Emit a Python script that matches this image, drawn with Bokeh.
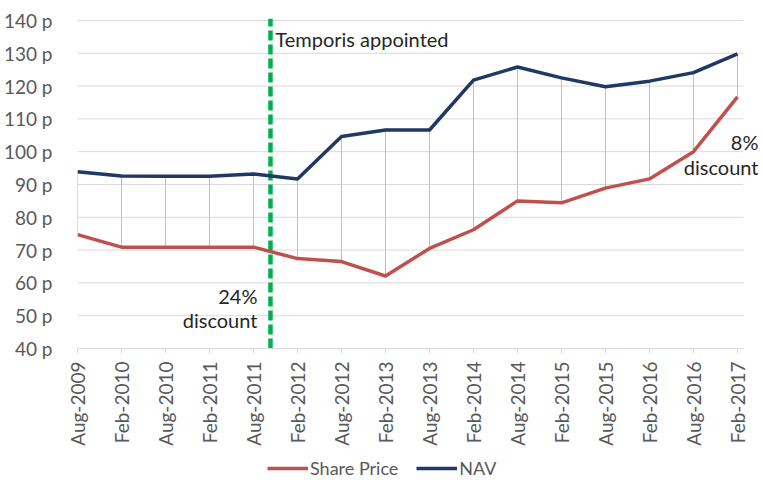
import math
from bokeh.plotting import figure
from bokeh.layouts import column
from bokeh.models import Range1d, FixedTicker, Legend, LegendItem, Label
from bokeh.embed import file_html
from bokeh.resources import INLINE

# ---- data ----
dates = ["Aug-2009", "Feb-2010", "Aug-2010", "Feb-2011", "Aug-2011", "Feb-2012",
         "Aug-2012", "Feb-2013", "Aug-2013", "Feb-2014", "Aug-2014", "Feb-2015",
         "Aug-2015", "Feb-2016", "Aug-2016", "Feb-2017"]
share_price = [74.7, 70.9, 70.9, 70.9, 70.9, 67.4, 66.5, 62.1, 70.5, 76.2,
               85.0, 84.4, 88.9, 91.7, 100.0, 116.7]
nav = [93.9, 92.6, 92.5, 92.5, 93.2, 91.7, 104.6, 106.6, 106.6, 121.8,
       125.8, 122.5, 119.8, 121.5, 124.1, 129.8]
y_ticks = [40, 50, 60, 70, 80, 90, 100, 110, 120, 130, 140]
y_tick_labels = ["40 p", "50 p", "60 p", "70 p", "80 p", "90 p", "100 p",
                 "110 p", "120 p", "130 p", "140 p"]
series_names = ["Share Price", "NAV"]
event_label = "Temporis appointed"
start_discount = ["24%", "discount"]
end_discount = ["8%", "discount"]

x = list(range(len(dates)))

# ---- styling / layout constants ----
FONT = "Lato"
RED = "#c0504d"
NAVY = "#1f3864"
GREEN = "#00b050"
GRID = "#d9d9d9"
TXT = "#595959"
DARK = "#262626"
EVENT_X = 4.386
GRID_END = 15.136
Y_MIN, Y_MAX = 40, 140.6

p = figure(width=763, height=448, output_backend="svg", toolbar_location=None,
           x_range=Range1d(0, 15.523), y_range=Range1d(Y_MIN, Y_MAX),
           min_border_left=77, min_border_right=3, min_border_top=18,
           min_border_bottom=99)
p.outline_line_color = None
p.background_fill_color = "white"
p.border_fill_color = "white"

# axes
p.xaxis.ticker = FixedTicker(ticks=x)
p.xaxis.bounds = (0, GRID_END)
p.xaxis.major_label_overrides = {i: d for i, d in zip(x, dates)}
p.xaxis.major_label_orientation = math.pi / 2
p.xaxis.axis_line_color = GRID
p.xaxis.major_tick_line_color = GRID
p.xaxis.major_tick_out = 5
p.xaxis.major_tick_in = 0
p.xaxis.minor_tick_line_color = None
p.xaxis.major_label_standoff = 8
p.xaxis.major_label_text_font = FONT
p.xaxis.major_label_text_font_size = "19px"
p.xaxis.major_label_text_color = TXT

p.yaxis.ticker = FixedTicker(ticks=y_ticks)
p.yaxis.major_label_overrides = {v: s for v, s in zip(y_ticks, y_tick_labels)}
p.yaxis.axis_line_color = None
p.yaxis.major_tick_line_color = None
p.yaxis.minor_tick_line_color = None
p.yaxis.major_label_standoff = 19
p.yaxis.major_label_text_font = FONT
p.yaxis.major_label_text_font_size = "19px"
p.yaxis.major_label_text_color = TXT

p.xgrid.grid_line_color = None
p.ygrid.grid_line_color = None

# horizontal gridlines (limited to the category span)
p.segment(x0=[0] * len(y_ticks), y0=y_ticks, x1=[GRID_END] * len(y_ticks),
          y1=y_ticks, line_color=GRID, line_width=1)

# drop lines between series
p.segment(x0=x, y0=share_price, x1=x, y1=nav, line_color="#bfbfbf", line_width=1)

# event line
p.segment(x0=[EVENT_X], y0=[Y_MIN], x1=[EVENT_X], y1=[Y_MAX], line_color=GREEN,
          line_width=4.5, line_dash="10 4")

p.line(x, share_price, line_color=RED, line_width=3.5, line_join="round")
p.line(x, nav, line_color=NAVY, line_width=3.5, line_join="round")

# annotations
def add_label(xv, yv, text, align):
    p.add_layout(Label(x=xv, y=yv, text=text, text_font=FONT,
                       text_font_size="20px", text_color=DARK, text_align=align,
                       text_baseline="alphabetic"))

add_label(EVENT_X + 0.11, 134.3, event_label, "left")
add_label(4.09, 55.9, start_discount[0], "right")
add_label(4.09, 48.6, start_discount[1], "right")
add_label(15.477, 103.0, end_discount[0], "right")
add_label(15.477, 95.4, end_discount[1], "right")

# ---- legend strip below the chart (its frame is aligned with the chart's) ----
lg = figure(width=763, height=32, output_backend="svg", toolbar_location=None,
            x_range=Range1d(0, 15.523), y_range=Range1d(0, 32),
            min_border=0, outline_line_color=None)
lg.axis.visible = False
lg.grid.visible = False
lg.border_fill_color = "white"
# series drawn outside the strip's visible range: only their legend samples show
k_share = lg.line(x, share_price, line_color=RED, line_width=3.5)
k_nav = lg.line(x, nav, line_color=NAVY, line_width=3.5)
legend = Legend(items=[LegendItem(label=series_names[0], renderers=[k_share]),
                       LegendItem(label=series_names[1], renderers=[k_nav])],
                orientation="horizontal", location=(190, 1),
                glyph_width=41, glyph_height=20, label_height=20,
                label_standoff=2, spacing=18, padding=0, margin=0,
                label_text_font=FONT, label_text_font_size="18px",
                label_text_color=TXT, border_line_color=None,
                background_fill_alpha=0)
lg.add_layout(legend, "center")

layout = column(p, lg, spacing=0)
open("out.html", "w").write(file_html(layout, INLINE))
